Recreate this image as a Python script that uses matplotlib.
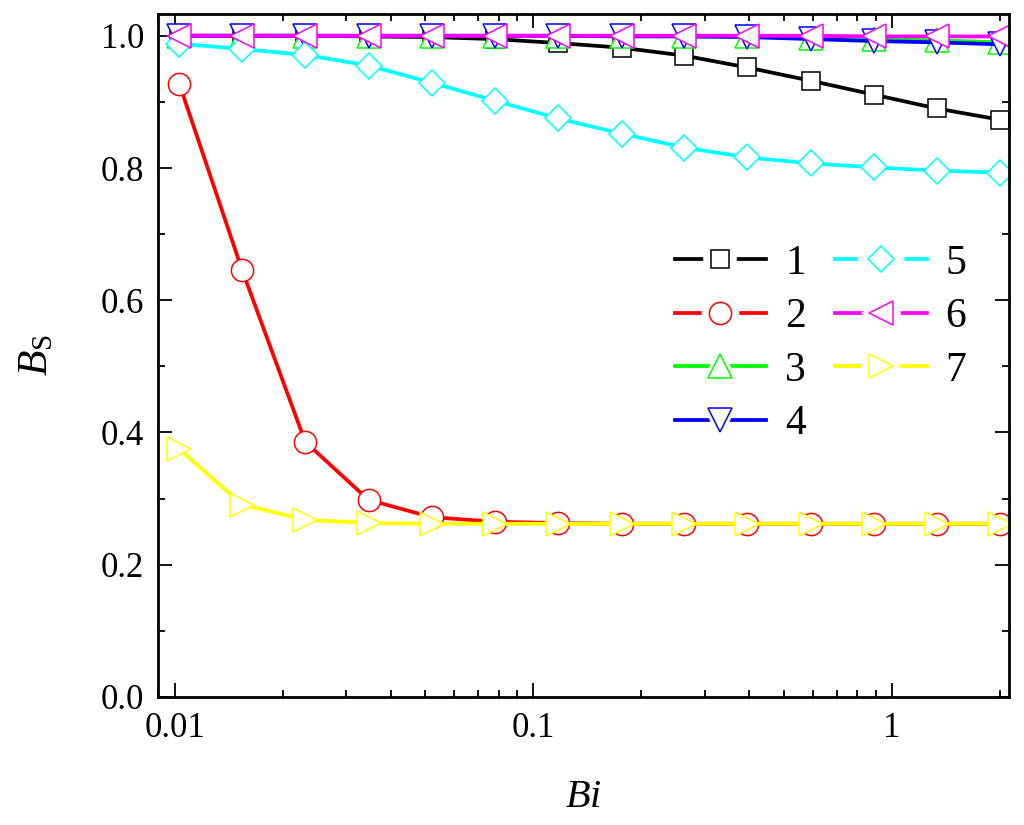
import matplotlib
matplotlib.use("Agg")
import matplotlib.pyplot as plt
from matplotlib.lines import Line2D
from matplotlib.legend_handler import HandlerTuple
from matplotlib.ticker import MultipleLocator, LogLocator, FixedLocator, FixedFormatter, NullFormatter, FormatStrFormatter

plt.rcParams['font.family'] = ['Liberation Serif', 'DejaVu Serif']
plt.rcParams['mathtext.fontset'] = 'custom'
plt.rcParams['mathtext.rm'] = 'Liberation Serif'
plt.rcParams['mathtext.it'] = 'Liberation Serif:italic'

bi = [0.0103, 0.0154, 0.0231, 0.0347, 0.052, 0.078, 0.117, 0.176, 0.263, 0.395, 0.593, 0.889, 1.333, 2.0]
s1 = [1.0, 1.0, 1.0, 0.999, 0.998, 0.995, 0.989, 0.982, 0.970, 0.952, 0.932, 0.911, 0.890, 0.873]
s2 = [0.927, 0.646, 0.386, 0.298, 0.272, 0.265, 0.263, 0.262, 0.262, 0.262, 0.262, 0.262, 0.262, 0.262]
s3 = [1.0, 1.0, 1.0, 1.0, 1.0, 1.0, 1.0, 1.0, 0.999, 0.999, 0.997, 0.995, 0.993, 0.990]
s4 = [1.0, 1.0, 1.0, 1.0, 1.0, 1.0, 1.0, 0.999, 0.999, 0.998, 0.995, 0.992, 0.990, 0.987]
s5 = [0.988, 0.980, 0.971, 0.955, 0.929, 0.902, 0.875, 0.852, 0.831, 0.816, 0.807, 0.801, 0.796, 0.793]
s6 = [1.0, 1.0, 1.0, 1.0, 1.0, 1.0, 1.0, 1.0, 1.0, 1.0, 1.0, 0.999, 0.999, 0.999]
s7 = [0.375, 0.291, 0.268, 0.263, 0.262, 0.262, 0.262, 0.262, 0.262, 0.262, 0.262, 0.262, 0.262, 0.262]
labels = ['1', '2', '3', '4', '5', '6', '7']
colors = ['#000000', '#FF0000', '#00FF00', '#0000FF', '#00FFFF', '#FF00FF', '#FFFF00']
markers = ['s', 'o', '^', 'v', 'D', '<', '>']
msizes = [13.5, 16, 17, 17, 13.5, 17, 17]
series = [s1, s2, s3, s4, s5, s6, s7]

fig = plt.figure(figsize=(10.24, 8.25), dpi=100)
ax = fig.add_axes([0.1543, 0.1552, 0.8311, 0.8279])

LW = 2.7
handles = []
for ys, lab, c, m, ms in zip(series, labels, colors, markers, msizes):
    ax.plot(bi, ys, color=c, lw=LW, marker=m, ms=ms, mfc='white', mec=c, mew=1.1)
    h_line = Line2D([], [], color=c, lw=LW)
    h_gap = Line2D([], [], ls='none', marker=m, ms=ms + 10, mfc='white', mec='white', mew=1.1)
    h_mark = Line2D([], [], ls='none', marker=m, ms=ms, mfc='white', mec=c, mew=1.1)
    handles.append((h_line, h_gap, h_mark))

ax.set_xscale('log')
ax.set_xlim(0.00898, 2.118)
ax.set_ylim(0.0, 1.033)

ax.xaxis.set_major_locator(FixedLocator([0.01, 0.1, 1]))
ax.xaxis.set_major_formatter(FixedFormatter(['0.01', '0.1', '1']))
ax.xaxis.set_minor_locator(LogLocator(base=10, subs=[2, 3, 4, 5, 6, 7, 8, 9]))
ax.xaxis.set_minor_formatter(NullFormatter())
ax.yaxis.set_major_locator(MultipleLocator(0.2))
ax.yaxis.set_minor_locator(MultipleLocator(0.1))
ax.yaxis.set_major_formatter(FormatStrFormatter('%.1f'))

ax.tick_params(which='both', direction='in', top=True, right=True, width=1.3, labelsize=25)
ax.tick_params(which='major', length=10)
ax.tick_params(which='minor', length=5)
ax.tick_params(axis='y', which='major', pad=10)
ax.tick_params(axis='x', which='major', pad=11)
for sp in ax.spines.values():
    sp.set_linewidth(2.0)

ax.set_xlabel(r'$Bi$', fontsize=29, labelpad=24)
ax.set_ylabel(r'$B_{\mathrm{S}}$', fontsize=30, labelpad=32)

ax.legend(handles, labels, handler_map={tuple: HandlerTuple(ndivide=1, pad=0)},
          loc='upper left', bbox_to_anchor=(0.607, 0.663), ncol=2, frameon=False,
          fontsize=30, handlelength=2.2, numpoints=1, labelspacing=0.36,
          columnspacing=0.7, handletextpad=0.45, borderpad=0, borderaxespad=0)

fig.savefig('out.png', dpi=100)
